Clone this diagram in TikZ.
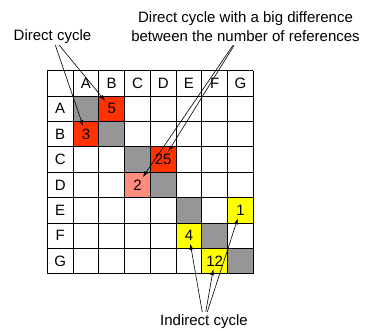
\documentclass[tikz,border=0pt]{standalone}
\usepackage{fontspec}
\setmainfont{Liberation Sans}
\usetikzlibrary{calc, arrows.meta}

\definecolor{cellred}{RGB}{255,51,0}
\definecolor{cellpink}{RGB}{255,140,125}
\definecolor{cellyellow}{RGB}{255,255,0}
\definecolor{cellgray}{RGB}{150,150,150}

\begin{document}
\begin{tikzpicture}[x=1pt, y=-1pt,
		every node/.style={font=\fontsize{15}{19}\selectfont, inner sep=1pt},
		count/.style={inner sep=2.5pt},
		pointer/.style={-{Latex[length=6pt, width=4pt]}, line width=0.6pt}]
			\useasboundingbox (0,0) rectangle (365,331);
			\def\w{25.75};
			\def\h{25.4};
			\def\x{47.3};
			\def\y{70.7};
		
			% diagonal and marked cells
			\foreach \i in {1,...,7}
				\fill [cellgray] ({\x + \i*\w},{\y + \i*\h}) rectangle ++(\w,\h);
			\foreach \r/\c/\col in {1/2/cellred, 2/1/cellred, 3/4/cellred, 4/3/cellpink,
					5/7/cellyellow, 6/5/cellyellow, 7/6/cellyellow}
				\fill [\col] ({\x + \c*\w},{\y + \r*\h}) rectangle ++(\w,\h);
			
			% grid
			\foreach \i in {0,...,8} {
				\draw [line width=0.9pt] ({\x + \i*\w},\y) -- ++(0,8*\h);
				\draw [line width=0.9pt] (\x,{\y + \i*\h}) -- ++(8*\w,0);
			}
			
			% headers
			\foreach \l [count=\i] in {A,...,G} {
				\node (col\l) at ({\x + (\i+0.5)*\w},{\y + 0.5*\h}) {\l};
				\node (row\l) at ({\x + 0.5*\w},{\y + (\i+0.5)*\h}) {\l};
			}
			
			% numbers of references
			\node [count] (cAB) at ({\x + 2.5*\w},{\y + 1.5*\h}) {5};
			\node [count] (cBA) at ({\x + 1.5*\w},{\y + 2.5*\h}) {3};
			\node [count] (cCD) at ({\x + 4.5*\w},{\y + 3.5*\h}) {25};
			\node [count] (cDC) at ({\x + 3.5*\w},{\y + 4.5*\h}) {2};
			\node [count] (cEG) at ({\x + 7.5*\w},{\y + 5.5*\h}) {1};
			\node [count] (cFE) at ({\x + 5.5*\w},{\y + 6.5*\h}) {4};
			\node [count] (cGF) at ({\x + 6.5*\w},{\y + 7.5*\h}) {12};
			
			% labels
			\node (direct) at (52.5,37) {Direct cycle};
			\node [align=center, inner sep=3pt] (bigdiff) at (245.5,27)
				{Direct cycle with a big difference\\between the number of references};
			\node [inner sep=3pt] (indirect) at (204,322) {Indirect cycle};
			
			\draw [pointer] (direct) -- (cBA);
			\draw [pointer] (direct) -- (cAB);
			\draw [pointer] (bigdiff) -- (cCD);
			\draw [pointer] (bigdiff) -- (cDC);
			\draw [pointer] (indirect) -- (cFE);
			\draw [pointer] (indirect) -- (cGF);
			\draw [pointer] (indirect) -- (cEG);
		\end{tikzpicture}
\end{document}
